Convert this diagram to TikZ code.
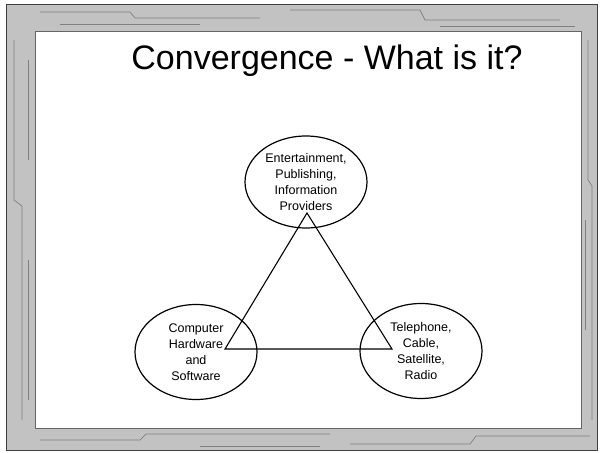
\documentclass[tikz,border=0pt]{standalone}
\usepackage{fontspec}
\setmainfont{Liberation Sans}
\usetikzlibrary{shapes.geometric}
\begin{document}
\begin{tikzpicture}[x=1pt,y=-1pt,
  ell/.style={ellipse, draw, line width=1.2pt, minimum width=122pt, minimum height=92pt,
    inner sep=0pt, align=center, font=\fontsize{12.5}{16}\selectfont},
  tri/.style={line width=1.1pt},
  texture/.style={black!50, line width=0.7pt}]
\useasboundingbox (0,0) rectangle (601,452);
% frame
\fill[black!24, even odd rule] (6,5) rectangle (597,450) (35,31) rectangle (581,428);
\draw[black!75, line width=1pt] (6,5) rectangle (597,450);
\draw[black!60, line width=0.7pt] (35,31) rectangle (581,428);
% texture hints
\draw[texture] (40,12) -- (130,12) -- (135,18) -- (260,18);
\draw[texture] (290,10) -- (420,10) -- (425,20) -- (560,20);
\draw[texture] (60,24) -- (200,24);
\draw[texture] (440,26) -- (575,26);
\draw[texture] (40,440) -- (140,440) -- (146,434) -- (330,434);
\draw[texture] (350,444) -- (470,444) -- (476,436) -- (590,436);
\draw[texture] (200,446) -- (320,446);
\draw[texture] (14,40) -- (14,200) -- (22,206) -- (22,420);
\draw[texture] (28,60) -- (28,160);
\draw[texture] (28,260) -- (28,400);
\draw[texture] (588,40) -- (588,180) -- (592,186) -- (592,420);
\draw[texture] (585,220) -- (585,330);
% title
\node[font=\fontsize{34}{40}\selectfont, anchor=base] (title) at (327,69) {Convergence - What is it?};
% ellipses
\node[ell] (top) at (306,182) {Entertainment,\\Publishing,\\Information\\Providers};
\node[ell, minimum height=95pt] (left) at (196,352) {Computer\\Hardware\\and\\Software};
\node[ell, minimum height=95pt] (right) at (421,351) {Telephone,\\Cable,\\Satellite,\\Radio};
% triangle
\coordinate (apex) at (307,213);
\coordinate (lv) at (225,349);
\coordinate (rv) at (392,349);
\draw[tri] (apex) -- (lv) -- (rv) -- cycle;
\end{tikzpicture}
\end{document}
